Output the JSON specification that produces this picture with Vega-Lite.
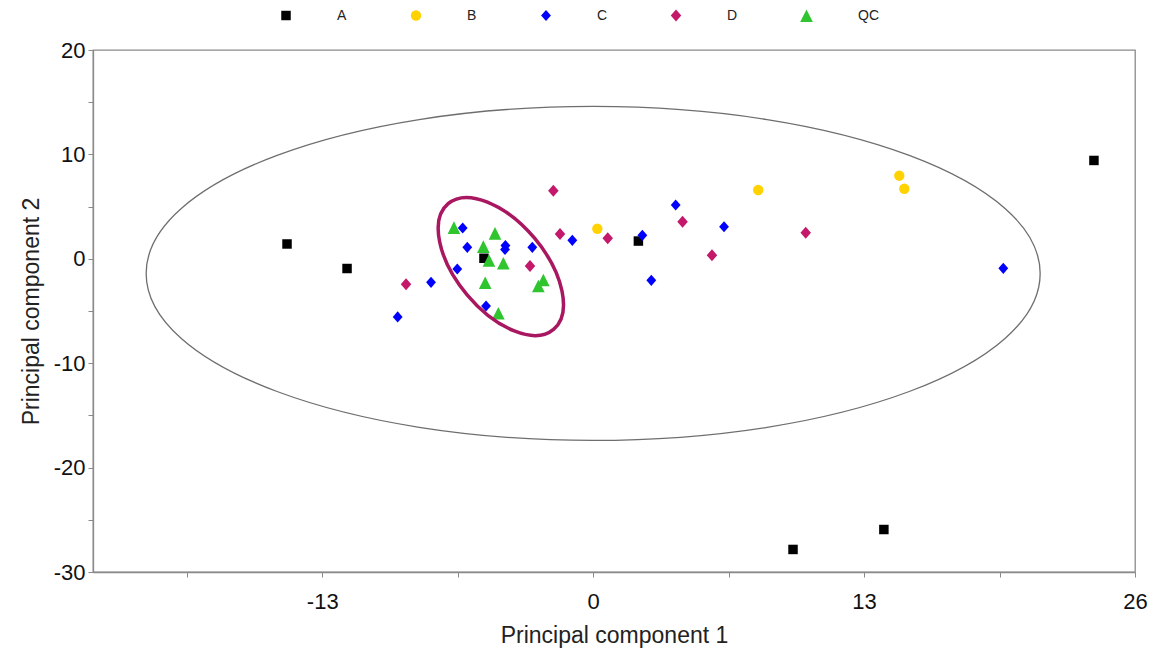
{
  "$schema": "https://vega.github.io/schema/vega-lite/v6.json",
  "width": 1042,
  "height": 522,
  "autosize": {"type": "none"},
  "padding": {"left": 93, "top": 50, "right": 16, "bottom": 84},
  "background": "white",
  "config": {
    "view": {"stroke": "#8a8a8a", "strokeWidth": 1.3},
    "font": "Liberation Sans"
  },
  "layer": [
    {
      "data": {"values": [{"pc1": 0, "pc2": -1.4}]},
      "mark": {
        "type": "point",
        "shape": "M-1,0C-1,-0.2063,-0.5523,-0.3736,0,-0.3736C0.5523,-0.3736,1,-0.2063,1,0C1,0.2063,0.5523,0.3736,0,0.3736C-0.5523,0.3736,-1,0.2063,-1,0Z",
        "size": 799236,
        "filled": false,
        "stroke": "#6e6e6e",
        "strokeWidth": 1.3,
        "opacity": 1
      },
      "encoding": {
        "x": {"field": "pc1", "type": "quantitative"},
        "y": {"field": "pc2", "type": "quantitative"}
      }
    },
    {
      "mark": {"type": "rule", "color": "#6e6e6e", "strokeWidth": 1.2},
      "encoding": {"x": {"datum": 0, "type": "quantitative"}}
    },
    {
      "mark": {"type": "rule", "color": "#6e6e6e", "strokeWidth": 1.2},
      "encoding": {"y": {"datum": 0, "type": "quantitative"}}
    },
    {
      "data": {
        "values": [
          {"group": "A", "pc1": -14.69, "pc2": 1.42},
          {"group": "A", "pc1": -11.81, "pc2": -0.93},
          {"group": "A", "pc1": -5.24, "pc2": 0.05},
          {"group": "A", "pc1": 2.17, "pc2": 1.7},
          {"group": "A", "pc1": 9.59, "pc2": -27.84},
          {"group": "A", "pc1": 13.95, "pc2": -25.93},
          {"group": "A", "pc1": 24.03, "pc2": 9.42},
          {"group": "B", "pc1": 0.2, "pc2": 2.88},
          {"group": "B", "pc1": 7.92, "pc2": 6.59},
          {"group": "B", "pc1": 14.69, "pc2": 7.96},
          {"group": "B", "pc1": 14.93, "pc2": 6.71},
          {"group": "C", "pc1": 2.36, "pc2": 2.25},
          {"group": "C", "pc1": 3.96, "pc2": 5.15},
          {"group": "C", "pc1": 6.28, "pc2": 3.07},
          {"group": "C", "pc1": 2.79, "pc2": -2.06},
          {"group": "C", "pc1": 19.68, "pc2": -0.91},
          {"group": "C", "pc1": -1.0, "pc2": 1.77},
          {"group": "C", "pc1": -2.92, "pc2": 1.1},
          {"group": "C", "pc1": -4.21, "pc2": 1.27},
          {"group": "C", "pc1": -4.23, "pc2": 0.89},
          {"group": "C", "pc1": -6.26, "pc2": 2.95},
          {"group": "C", "pc1": -6.04, "pc2": 1.1},
          {"group": "C", "pc1": -6.52, "pc2": -0.98},
          {"group": "C", "pc1": -7.78, "pc2": -2.25},
          {"group": "C", "pc1": -9.38, "pc2": -5.57},
          {"group": "C", "pc1": -5.14, "pc2": -4.52},
          {"group": "D", "pc1": 0.7, "pc2": 1.96},
          {"group": "D", "pc1": 4.29, "pc2": 3.55},
          {"group": "D", "pc1": 5.7, "pc2": 0.34},
          {"group": "D", "pc1": 10.2, "pc2": 2.5},
          {"group": "D", "pc1": -1.91, "pc2": 6.52},
          {"group": "D", "pc1": -1.59, "pc2": 2.38},
          {"group": "D", "pc1": -3.03, "pc2": -0.69},
          {"group": "D", "pc1": -8.98, "pc2": -2.44},
          {"group": "QC", "pc1": -6.68, "pc2": 2.98},
          {"group": "QC", "pc1": -4.71, "pc2": 2.44},
          {"group": "QC", "pc1": -5.27, "pc2": 1.16},
          {"group": "QC", "pc1": -5.0, "pc2": -0.16},
          {"group": "QC", "pc1": -4.31, "pc2": -0.43},
          {"group": "QC", "pc1": -5.18, "pc2": -2.29},
          {"group": "QC", "pc1": -2.39, "pc2": -2.03},
          {"group": "QC", "pc1": -2.63, "pc2": -2.61},
          {"group": "QC", "pc1": -4.55, "pc2": -5.22}
        ]
      },
      "mark": {"type": "point", "filled": true, "opacity": 1, "strokeWidth": 0},
      "encoding": {
        "x": {
          "field": "pc1",
          "type": "quantitative",
          "scale": {"domain": [-24, 26], "nice": false, "zero": false},
          "axis": {
            "title": "Principal component 1",
            "values": [-19.5, -13, -6.5, 0, 6.5, 13, 19.5, 26],
            "labelExpr": "datum.value % 13 == 0 ? '' + datum.value : ''",
            "grid": false,
            "tickSize": 5,
            "tickColor": "#8a8a8a",
            "domainColor": "#8a8a8a",
            "domainWidth": 1.3,
            "labelPadding": 14,
            "labelFontSize": 22,
            "labelColor": "#111",
            "labelFlush": false,
            "labelFont": "Liberation Sans",
            "titleFont": "Liberation Sans",
            "titleFontSize": 23,
            "titleFontWeight": "normal",
            "titleColor": "#222",
            "titlePadding": 12
          }
        },
        "y": {
          "field": "pc2",
          "type": "quantitative",
          "scale": {"domain": [-30, 20], "nice": false, "zero": false},
          "axis": {
            "title": "Principal component 2",
            "values": [-30, -25, -20, -15, -10, -5, 0, 5, 10, 15, 20],
            "labelExpr": "datum.value % 10 == 0 ? '' + datum.value : ''",
            "grid": false,
            "tickSize": 5,
            "tickColor": "#8a8a8a",
            "domainColor": "#8a8a8a",
            "domainWidth": 1.3,
            "labelPadding": 3,
            "labelFontSize": 22,
            "labelColor": "#111",
            "labelFlush": false,
            "labelFont": "Liberation Sans",
            "titleFont": "Liberation Sans",
            "titleFontSize": 23,
            "titleFontWeight": "normal",
            "titleColor": "#222",
            "titlePadding": 10
          }
        },
        "color": {
          "field": "group",
          "type": "nominal",
          "scale": {
            "domain": ["A", "B", "C", "D", "QC"],
            "range": ["#000000", "#FFD200", "#0000FF", "#C4186A", "#2EC52E"]
          },
          "legend": {
            "title": null,
            "orient": "none",
            "legendX": 186,
            "legendY": -42,
            "direction": "horizontal",
            "gridAlign": "all",
            "labelFontSize": 14,
            "labelFont": "Liberation Sans",
            "labelColor": "#222",
            "labelOffset": 44,
            "columnPadding": 50,
            "padding": 0
          }
        },
        "shape": {
          "field": "group",
          "type": "nominal",
          "scale": {
            "domain": ["A", "B", "C", "D", "QC"],
            "range": ["square", "circle", "M0,-1L0.88,0L0,1L-0.88,0Z", "M0,-1L0.88,0L0,1L-0.88,0Z", "M0,-1L1,1L-1,1Z"]
          }
        },
        "size": {
          "field": "group",
          "type": "nominal",
          "scale": {
            "domain": ["A", "B", "C", "D", "QC"],
            "range": [90, 160, 160, 160, 200]
          }
        }
      }
    },
    {
      "data": {"values": [{"pc1": -4.43, "pc2": -0.74}]},
      "mark": {
        "type": "point",
        "shape": "M-1,0C-1,-0.2966,-0.5523,-0.537,0,-0.537C0.5523,-0.537,1,-0.2966,1,0C1,0.2966,0.5523,0.537,0,0.537C-0.5523,0.537,-1,0.2966,-1,0Z",
        "size": 26896,
        "angle": 50,
        "filled": false,
        "stroke": "#A8175F",
        "strokeWidth": 3.5,
        "opacity": 1
      },
      "encoding": {
        "x": {"field": "pc1", "type": "quantitative"},
        "y": {"field": "pc2", "type": "quantitative"}
      }
    }
  ]
}
